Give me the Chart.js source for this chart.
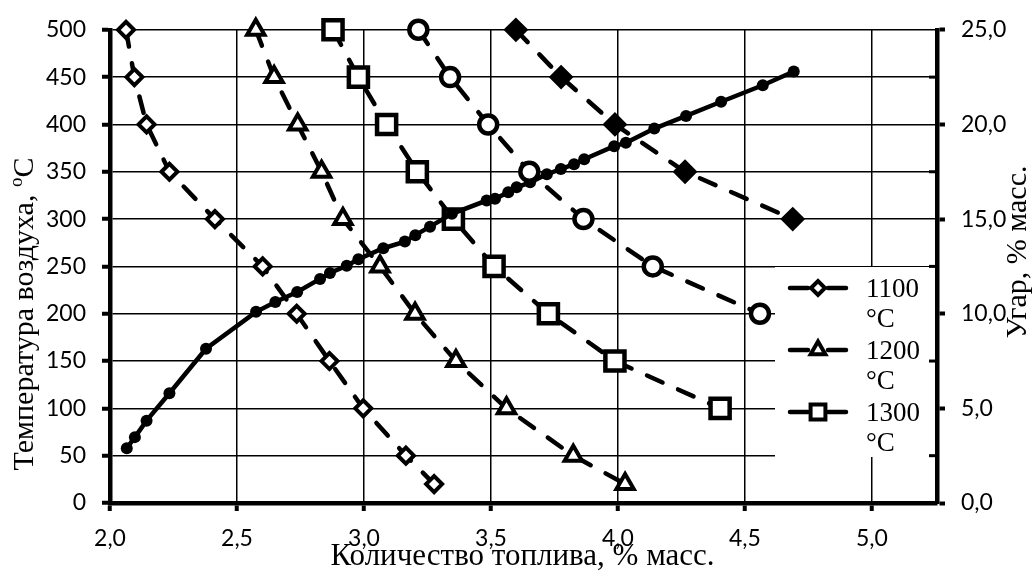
<!DOCTYPE html>
<html>
<head>
<meta charset="utf-8">
<script src="https://cdn.jsdelivr.net/npm/chart.js@4.4.1/dist/chart.umd.min.js"></script>
<style>
html,body{margin:0;padding:0;background:#fff;}
#wrap{width:1034px;height:571px;}
</style>
</head>
<body>
<div id="wrap"><canvas id="c" width="1034" height="571"></canvas></div>
<script>
// ---- tick values ----
const xTicks  = [2.0, 2.5, 3.0, 3.5, 4.0, 4.5, 5.0];
const yTicks  = [0, 50, 100, 150, 200, 250, 300, 350, 400, 450, 500];
const y2Ticks = [0, 5, 10, 15, 20, 25];
const y2Minor = [2.5, 7.5, 12.5, 17.5, 22.5];

// ---- series: air temperature (°C) vs fuel amount (% mass) ----
const temp1100 = [500, 450, 400, 350, 300, 250, 200, 150, 100, 50, 20];
const fuel1100 = [2.063, 2.096, 2.144, 2.234, 2.413, 2.601, 2.735, 2.864, 2.997, 3.165, 3.276];

const temp1200 = [500, 450, 400, 350, 300, 250, 200, 150, 100, 50, 20];
const fuel1200 = [2.574, 2.646, 2.739, 2.833, 2.917, 3.063, 3.201, 3.362, 3.561, 3.824, 4.028];

const temp1300 = [500, 450, 400, 350, 300, 250, 200, 150, 100];
const fuel1300 = [2.878, 2.978, 3.089, 3.210, 3.352, 3.512, 3.726, 3.988, 4.402];

const tempCircle = [500, 450, 400, 350, 300, 250, 200];
const fuelCircle = [3.214, 3.339, 3.489, 3.651, 3.864, 4.137, 4.559];

const tempFilled = [500, 450, 400, 350, 300];
const fuelFilled = [3.598, 3.776, 3.988, 4.264, 4.688];

// ---- burn-off (Угар, % mass, right axis) vs fuel amount ----
const burnFuel = [2.066, 2.098, 2.144, 2.234, 2.378, 2.575, 2.651, 2.737, 2.827, 2.866, 2.932, 2.978,
                  3.076, 3.161, 3.202, 3.260, 3.346, 3.483, 3.516, 3.568, 3.601, 3.654, 3.720, 3.775,
                  3.827, 3.867, 3.985, 4.031, 4.143, 4.268, 4.406, 4.570, 4.692];
const burnLoss = [2.89, 3.48, 4.35, 5.80, 8.15, 10.10, 10.62, 11.15, 11.84, 12.15, 12.53, 12.88,
                  13.46, 13.81, 14.15, 14.60, 15.28, 15.98, 16.07, 16.42, 16.68, 16.94, 17.37, 17.64,
                  17.90, 18.16, 18.85, 19.03, 19.78, 20.45, 21.20, 22.07, 22.80];

const BLACK = '#000';
const SERIF = '"Liberation Serif", "Times New Roman", serif';
const SANS = 'Lato, "Liberation Sans", sans-serif';

function pts(xs, ys) { return xs.map((x, i) => ({ x: x, y: ys[i] })); }
const fmt = v => Number(v).toFixed(1).replace('.', ',');

function dashedSeries(label, xs, ys, style, radius, fill, bw) {
  return {
    label: label, data: pts(xs, ys), yAxisID: 'y', showLine: true, tension: 0,
    borderColor: BLACK, borderWidth: 4.5, borderDash: [17, 17], borderCapStyle: 'round',
    pointStyle: style, pointRadius: radius, pointHoverRadius: radius,
    pointBackgroundColor: fill, pointBorderColor: BLACK, pointBorderWidth: bw,
    clip: false
  };
}

const datasets = [
  dashedSeries('1100 °C', fuel1100, temp1100, 'rectRot', 8, '#fff', 4),
  dashedSeries('1200 °C', fuel1200, temp1200, 'triangle', 10, '#fff', 4),
  dashedSeries('', fuelCircle, tempCircle, 'circle', 9, '#fff', 4.5),
  dashedSeries('', fuelFilled, tempFilled, 'rectRot', 11, BLACK, 2),
  {
    label: 'Угар', data: pts(burnFuel, burnLoss), yAxisID: 'y2', showLine: true, tension: 0,
    borderColor: BLACK, borderWidth: 4.5, pointStyle: 'circle', pointRadius: 6, pointHoverRadius: 6,
    pointBackgroundColor: BLACK, pointBorderColor: BLACK, pointBorderWidth: 0, clip: false
  },
  dashedSeries('1300 °C', fuel1300, temp1300, 'rect', 13.5, '#fff', 4.5)
];
const legendOrder = [0, 1, 5];

function drawMarker(ctx, style, x, y, r, fill, bw) {
  ctx.beginPath();
  if (style === 'rectRot') {
    ctx.moveTo(x - r, y); ctx.lineTo(x, y - r); ctx.lineTo(x + r, y); ctx.lineTo(x, y + r); ctx.closePath();
  } else if (style === 'triangle') {
    for (let k = 0; k < 3; k++) {
      const a = k * 2 * Math.PI / 3;
      const px = x + Math.sin(a) * r, py = y - Math.cos(a) * r;
      if (k === 0) ctx.moveTo(px, py); else ctx.lineTo(px, py);
    }
    ctx.closePath();
  } else if (style === 'rect') {
    const s = Math.SQRT1_2 * r;
    ctx.rect(x - s, y - s, 2 * s, 2 * s);
  } else {
    ctx.arc(x, y, r, 0, Math.PI * 2);
  }
  ctx.fillStyle = fill; ctx.fill();
  ctx.lineWidth = bw; ctx.strokeStyle = BLACK; ctx.setLineDash([]); ctx.stroke();
}

const deco = {
  id: 'deco',
  afterDraw(chart) {
    const ctx = chart.ctx, ca = chart.chartArea;
    ctx.save();
    // legend box (covers gridlines)
    const lx = ca.right - 162, ly = 267, lw = 160, lh = 190;
    ctx.fillStyle = '#fff';
    ctx.fillRect(lx, ly, lw, lh);
    legendOrder.forEach((di, i) => {
      const ds = chart.data.datasets[di];
      const cy = ly + 21 + i * 62;
      ctx.setLineDash([]);
      ctx.strokeStyle = BLACK; ctx.lineWidth = 4.5; ctx.lineCap = 'round';
      ctx.beginPath(); ctx.moveTo(lx + 15, cy); ctx.lineTo(lx + 33, cy); ctx.stroke();
      ctx.beginPath(); ctx.moveTo(lx + 53, cy); ctx.lineTo(lx + 71, cy); ctx.stroke();
      drawMarker(ctx, ds.pointStyle, lx + 43, cy, ds.pointStyle === 'rect' ? 10.5 : (ds.pointStyle === 'triangle' ? 8.5 : 7), ds.pointBackgroundColor, 4);
      const parts = ds.label.split(' ');
      ctx.fillStyle = BLACK;
      ctx.font = '27px ' + SERIF;
      ctx.textAlign = 'left'; ctx.textBaseline = 'middle';
      ctx.fillText(parts[0], lx + 91, cy + 2);
      ctx.fillText(parts[1], lx + 91, cy + 32);
    });
    // minor inward ticks on right axis
    const y2 = chart.scales.y2;
    ctx.strokeStyle = BLACK; ctx.lineWidth = 3; ctx.lineCap = 'butt';
    y2Minor.forEach(v => {
      const py = y2.getPixelForValue(v);
      ctx.beginPath(); ctx.moveTo(ca.right - 8, py); ctx.lineTo(ca.right, py); ctx.stroke();
    });
    // axis titles
    ctx.fillStyle = BLACK;
    ctx.textBaseline = 'alphabetic';
    ctx.font = '31px ' + SERIF;
    ctx.textAlign = 'center';
    ctx.fillText('Количество топлива, % масс.', (ca.left + ca.right) / 2 - 1, 565);

    // left title with superscript o
    ctx.save();
    ctx.translate(33, 314);
    ctx.rotate(-Math.PI / 2);
    const main = 'Температура воздуха, ';
    ctx.font = '30px ' + SERIF;
    const wMain = ctx.measureText(main).width;
    ctx.font = '19px ' + SERIF;
    const wSup = ctx.measureText('o').width;
    ctx.font = '30px ' + SERIF;
    const wC = ctx.measureText('С').width;
    let x0 = -(wMain + wSup + wC) / 2;
    ctx.textAlign = 'left';
    ctx.fillText(main, x0, 0);
    ctx.font = '19px ' + SERIF;
    ctx.fillText('o', x0 + wMain, -11);
    ctx.font = '30px ' + SERIF;
    ctx.fillText('С', x0 + wMain + wSup, 0);
    ctx.restore();

    // right title
    ctx.save();
    ctx.translate(1026, 252);
    ctx.rotate(-Math.PI / 2);
    ctx.font = '30px ' + SERIF;
    ctx.textAlign = 'center';
    ctx.fillText('Угар, % масс.', 0, 0);
    ctx.restore();

    ctx.restore();
  }
};

const tickFont = { family: SANS, size: 23 };

new Chart(document.getElementById('c'), {
  type: 'scatter',
  data: { datasets: datasets },
  options: {
    responsive: false,
    animation: false,
    layout: { padding: { top: 24, left: 0, right: 0, bottom: 0 } },
    plugins: { legend: { display: false }, tooltip: { enabled: false } },
    events: [],
    scales: {
      x: {
        type: 'linear', position: 'bottom', min: 2.0, max: 5.256,
        afterBuildTicks: s => { s.ticks = xTicks.map(v => ({ value: v })); },
        afterFit: s => { s.height = 68; },
        ticks: { callback: v => fmt(v), font: tickFont, color: BLACK, padding: 14, maxRotation: 0, autoSkip: false },
        grid: { color: BLACK, lineWidth: 1.5, tickLength: 8, tickColor: BLACK, tickWidth: 4 },
        border: { display: true, color: BLACK, width: 4.5 }
      },
      y: {
        type: 'linear', position: 'left', min: 0, max: 500,
        afterBuildTicks: s => { s.ticks = yTicks.map(v => ({ value: v })); },
        afterFit: s => { s.width = 110; },
        ticks: { callback: v => String(v), font: tickFont, color: BLACK, padding: 16, autoSkip: false },
        grid: { color: BLACK, lineWidth: 1.5, tickLength: 8, tickColor: BLACK, tickWidth: 4 },
        border: { display: true, color: BLACK, width: 4.5 }
      },
      y2: {
        type: 'linear', position: 'right', min: 0, max: 25,
        afterBuildTicks: s => { s.ticks = y2Ticks.map(v => ({ value: v })); },
        afterFit: s => { s.width = 97; },
        ticks: { callback: v => fmt(v), font: tickFont, color: BLACK, padding: 16, autoSkip: false },
        grid: { drawOnChartArea: false, tickLength: 8, tickColor: BLACK, tickWidth: 4 },
        border: { display: true, color: BLACK, width: 4.5 }
      }
    }
  },
  plugins: [deco]
});
</script>
</body>
</html>
